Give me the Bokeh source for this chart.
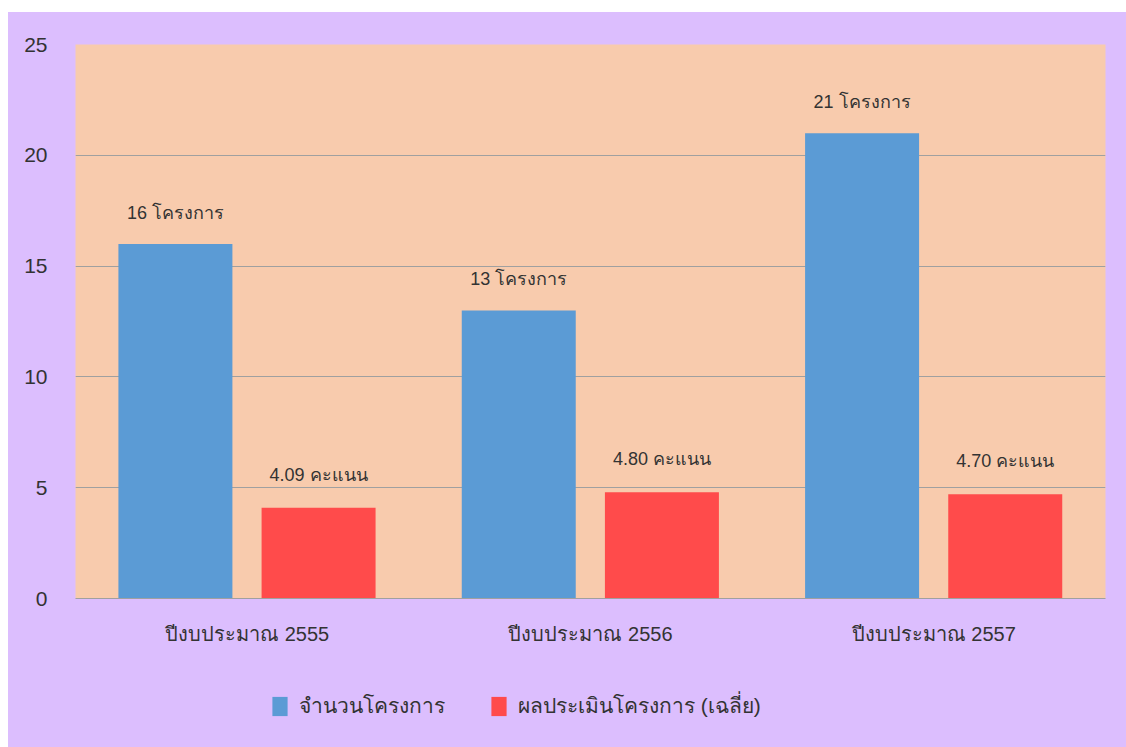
from bokeh.plotting import figure
from bokeh.models import (ColumnDataSource, FactorRange, Range1d, FixedTicker, Legend,
                          LegendItem, Spacer)
from bokeh.layouts import column, row
from bokeh.core.properties import value
from bokeh.transform import dodge
from bokeh.embed import file_html
from bokeh.resources import INLINE

years = ["ปีงบประมาณ 2555", "ปีงบประมาณ 2556", "ปีงบประมาณ 2557"]
projects = [16, 13, 21]
scores = [4.09, 4.80, 4.70]
project_labels = ["16 โครงการ", "13 โครงการ", "21 โครงการ"]
score_labels = ["4.09 คะแนน", "4.80 คะแนน", "4.70 คะแนน"]
series_names = ["จำนวนโครงการ", "ผลประเมินโครงการ (เฉลี่ย)"]
y_ticks = [0, 5, 10, 15, 20, 25]

FONT = "Arial"
TXT = "#333333"
PURPLE = "#DCBEFE"
PEACH = "#F8CBAD"
BLUE = "#5B9BD5"
RED = "#FF4B4B"

src = ColumnDataSource(dict(year=years, projects=projects, scores=scores,
                            plab=project_labels, slab=score_labels))

p = figure(x_range=FactorRange(factors=years, range_padding=0),
           y_range=Range1d(0, 25), frame_width=1030, frame_height=554,
           output_backend="svg", toolbar_location=None,
           min_border_left=67, min_border_right=21, min_border_top=32,
           min_border_bottom=72)

p.background_fill_color = PEACH
p.border_fill_color = PURPLE
p.outline_line_color = None

r1 = p.vbar(x=dodge("year", -0.209, range=p.x_range), top="projects", width=0.332,
            source=src, fill_color=BLUE, line_color=None)
r2 = p.vbar(x=dodge("year", 0.208, range=p.x_range), top="scores", width=0.332,
            source=src, fill_color=RED, line_color=None)

p.text(x=dodge("year", -0.209, range=p.x_range), y="projects", text="plab",
       source=src, text_align="center", text_baseline="middle", y_offset=-31,
       text_font=value(FONT), text_font_size="18px", text_color=TXT)
p.text(x=dodge("year", 0.208, range=p.x_range), y="scores", text="slab",
       source=src, text_align="center", text_baseline="middle", y_offset=-33,
       text_font=value(FONT), text_font_size="18px", text_color=TXT)

p.xgrid.grid_line_color = None
p.ygrid.grid_line_color = "#A0A0A0"
p.ygrid.grid_line_width = 1
p.yaxis.ticker = FixedTicker(ticks=y_ticks)

p.yaxis.axis_line_color = None
p.yaxis.major_tick_line_color = None
p.yaxis.minor_tick_line_color = None
p.yaxis.major_tick_in = 0
p.yaxis.major_tick_out = 0
p.yaxis.major_label_standoff = 28
p.yaxis.major_label_text_font = FONT
p.yaxis.major_label_text_font_size = "21px"
p.yaxis.major_label_text_color = TXT

p.xaxis.axis_line_color = "#A0A0A0"
p.xaxis.major_tick_line_color = None
p.xaxis.major_tick_in = 0
p.xaxis.major_tick_out = 0
p.xaxis.major_label_standoff = 24
p.xaxis.major_label_text_font = FONT
p.xaxis.major_label_text_font_size = "20px"
p.xaxis.major_label_text_color = TXT

# legend strip below the chart (its frame is aligned with the chart's frame)
lg = figure(x_range=Range1d(0, 1), y_range=Range1d(0, 1), width=1118, height=77,
            output_backend="svg", toolbar_location=None,
            min_border_left=0, min_border_right=0, min_border_top=0, min_border_bottom=0)
lg.background_fill_color = PURPLE
lg.border_fill_color = PURPLE
lg.outline_line_color = None
lg.axis.visible = False
lg.grid.grid_line_color = None
swatch = ColumnDataSource(dict(x=[-5], top=[-5]))
d1 = lg.vbar(x="x", top="top", width=0.1, source=swatch, fill_color=BLUE, line_color=None)
d2 = lg.vbar(x="x", top="top", width=0.1, source=swatch, fill_color=RED, line_color=None)
legend = Legend(items=[LegendItem(label=series_names[0], renderers=[d1]),
                       LegendItem(label=series_names[1], renderers=[d2])],
                orientation="horizontal", location=(195, 25),
                background_fill_alpha=0, border_line_color=None,
                label_text_font=FONT, label_text_font_size="21px",
                label_text_color=TXT, glyph_width=19, glyph_height=24,
                spacing=44, padding=0, margin=0, label_standoff=10)
lg.add_layout(legend)

chart = column(p, lg, styles={"background-color": PURPLE})
layout = row(Spacer(width=8, height=747),
             column(Spacer(width=1118, height=12), chart))
open("out.html", "w").write(file_html(layout, INLINE))
